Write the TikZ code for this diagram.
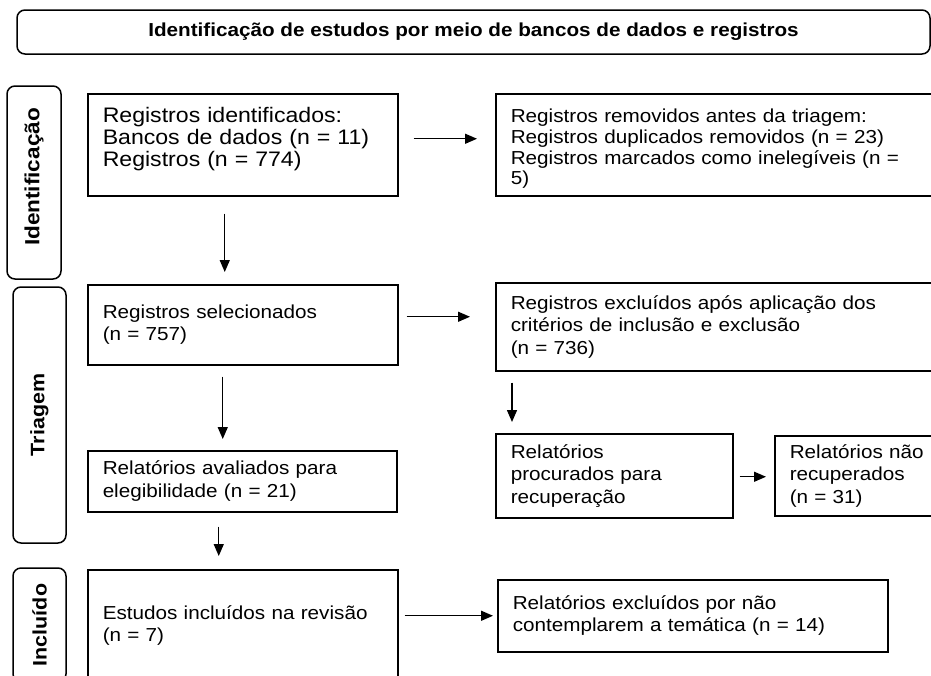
\documentclass[tikz,border=0pt]{standalone}
\usepackage{fontspec}
\setmainfont{Liberation Sans}[FakeStretch=1.1]
\usetikzlibrary{arrows.meta}
\begin{document}
\begin{tikzpicture}[x=1pt,y=-1pt,
  box/.style={draw, line width=1.5pt, rectangle, anchor=north west, align=left,
    inner xsep=15pt, inner ysep=0pt, font=\fontsize{18.8}{22.5}\selectfont},
  side/.style={draw, line width=1.5pt, rounded corners=8pt, rotate=90, inner sep=0pt,
    font=\bfseries\fontsize{19.5}{22}\selectfont},
  arr/.style={line width=1.4pt, -{Triangle[length=12pt,width=10pt]}}]
\fill[white] (0,0) rectangle (931,675);
\useasboundingbox (0,0) rectangle (931,675);
\clip (0,0) rectangle (931,675);

% header
\node[draw, line width=1.5pt, rounded corners=8pt, minimum width=913pt, minimum height=44pt,
  inner sep=0pt, font=\bfseries\fontsize{18.8}{22}\selectfont] (T) at (473.5,32)
  {Identificação de estudos por meio de bancos de dados e registros};

% phase labels
\node[side, minimum width=193pt, minimum height=54pt, font=\bfseries\fontsize{20.5}{22}\selectfont] (S1) at (34,182.5) {\hspace*{11pt}Identificação};
\node[side, minimum width=256pt, minimum height=53pt] (S2) at (39.5,415) {Triagem};
\node[side, minimum width=114pt, minimum height=53pt] (S3) at (39.5,625) {Incluído};

% boxes
\node[box, text width=280pt, minimum height=102pt, font=\fontsize{21}{22}\selectfont] (A) at (87,93)
  {Registros identificados:\\Bancos de dados (n = 11)\\Registros (n = 774)\rule[-16pt]{0pt}{1pt}};
\node[box, text width=420pt, minimum height=102pt, font=\fontsize{18.8}{20.6}\selectfont] (B) at (495,93)
  {\rule{0pt}{22pt}Registros removidos antes da triagem:\\Registros duplicados removidos (n = 23)\\Registros marcados como inelegíveis (n =\\5)};
\node[box, text width=280pt, minimum height=80pt] (C) at (87,284)
  {Registros selecionados\\(n = 757)};
\node[box, text width=279pt, minimum height=61pt] (D) at (87,450)
  {Relatórios avaliados para\\elegibilidade (n = 21)};
\node[box, text width=280pt, minimum height=112pt] (E) at (87,569)
  {Estudos incluídos na revisão\\(n = 7)};
\node[box, text width=420pt, minimum height=88pt] (F) at (495,282)
  {Registros excluídos após aplicação dos\\critérios de inclusão e exclusão\\(n = 736)};
\node[box, text width=207pt, minimum height=84pt] (G) at (495,433)
  {Relatórios\\procurados para\\recuperação};
\node[box, text width=150pt, minimum height=80pt] (H) at (774,435)
  {Relatórios não\\recuperados\\(n = 31)};
\node[box, text width=360pt, minimum height=72pt] (I) at (497,579)
  {Relatórios excluídos por não\\contemplarem a temática (n = 14)};

% connectors
\draw[arr] ([xshift=15pt,yshift=6pt]A.east) -- ([xshift=-18pt,yshift=6pt]B.west);
\draw[arr] ([xshift=-18pt,yshift=-17pt]A.south) -- ([xshift=-18pt,yshift=12pt]C.north);
\draw[arr] ([xshift=8pt,yshift=8pt]C.east) -- ([xshift=-25pt,yshift=10pt]F.west);
\draw[arr] ([xshift=-20pt,yshift=-11pt]C.south) -- ([xshift=-19.5pt,yshift=11pt]D.north);
\draw[arr] ([xshift=-23.5pt,yshift=-14pt]D.south) -- ([xshift=-24pt,yshift=13pt]E.north);
\draw[arr] ([xshift=6pt,yshift=10pt]E.east) -- ([xshift=-4pt,yshift=0pt]I.west);
\draw[arr] ([xshift=17pt,yshift=-11pt]F.south west) -- ([xshift=17pt,yshift=11pt]G.north west);
\draw[arr] ([xshift=6pt,yshift=-1pt]G.east) -- ([xshift=-8pt,yshift=-1pt]H.west);
\end{tikzpicture}
\end{document}
